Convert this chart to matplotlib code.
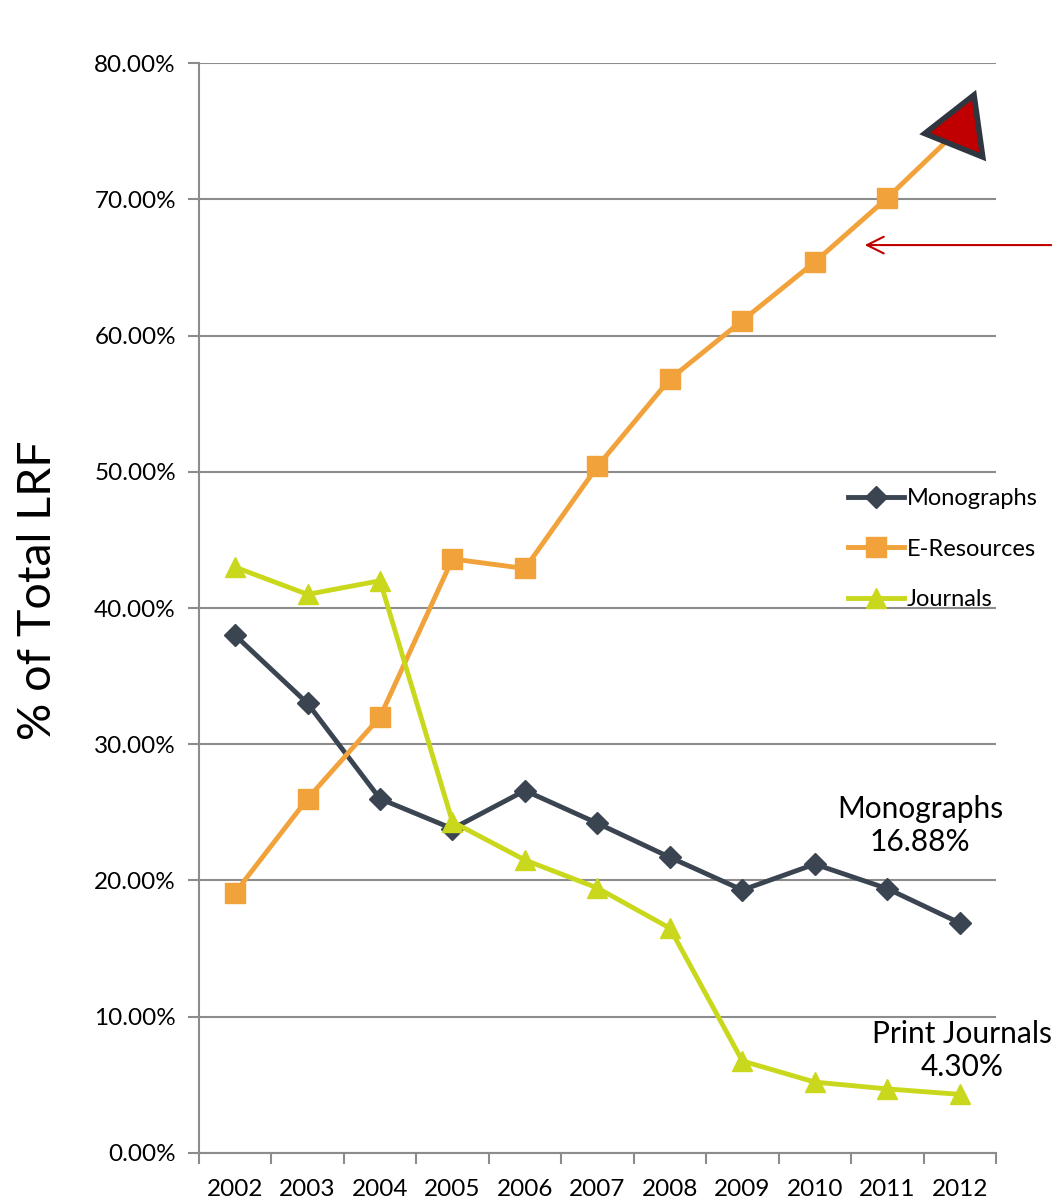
import matplotlib.pyplot as plt
import numpy as np

plt.rcParams['font.family'] = ['Lato', 'DejaVu Sans']

years = ["2002", "2003", "2004", "2005", "2006", "2007", "2008", "2009", "2010", "2011", "2012"]
monographs = [38.0, 33.0, 26.0, 23.8, 26.6, 24.2, 21.7, 19.3, 21.2, 19.4, 16.88]
eresources = [19.1, 26.0, 32.0, 43.6, 42.9, 50.4, 56.8, 61.1, 65.4, 70.1, 75.2]
journals = [43.0, 41.0, 42.0, 24.3, 21.5, 19.45, 16.5, 6.75, 5.2, 4.7, 4.3]

c_mono = "#3B4551"
c_eres = "#F2A23A"
c_jour = "#C9D81C"
grid_c = "#8C8C8C"

fig = plt.figure(figsize=(10.52, 12.01), dpi=100)
ax = fig.add_axes([0.189, 0.04, 0.7578, 0.9075])

x = np.arange(len(years))
ax.plot(x, monographs, color=c_mono, lw=3.5, marker="D", ms=11, label="Monographs", zorder=3)
ax.plot(x, eresources, color=c_eres, lw=3.5, marker="s", ms=14, label="E-Resources", zorder=3)
ax.plot(x, journals, color=c_jour, lw=3.5, marker="^", ms=14, label="Journals", zorder=3)

# big red triangle on the last E-Resources point
ax.plot(x[-1], eresources[-1], marker=(3, 0, -22), ms=52, color="#C00000",
        markeredgecolor="#2F3640", markeredgewidth=4, zorder=5, clip_on=False)

ax.set_xlim(-0.5, len(years) - 0.5)
ax.set_ylim(0, 80)
ax.set_xticks(x)
ax.set_xticklabels(years)
ax.set_xticks(np.arange(-0.5, len(years), 1), minor=True)
ax.tick_params(axis="x", which="major", length=0, pad=19, labelsize=17.5)
ax.tick_params(axis="x", which="minor", length=8, width=1.5, color=grid_c)
yt = np.arange(0, 81, 10)
ax.set_yticks(yt)
ax.set_yticklabels(["%.2f%%" % v for v in yt])
ax.tick_params(axis="y", length=8, width=1.5, color=grid_c, labelsize=17.5, pad=8.5)
ax.grid(axis="y", color=grid_c, lw=1.5)
ax.set_axisbelow(True)
for s in ["top", "right"]:
    ax.spines[s].set_visible(False)
for s in ["left", "bottom"]:
    ax.spines[s].set_color(grid_c)
    ax.spines[s].set_linewidth(1.5)

fig.text(38 / 1052, 1 - 590 / 1201, "% of Total LRF", fontsize=33.5, rotation=90,
         ha="center", va="center")

ax.legend(loc="upper left", bbox_to_anchor=(0.814, 0.61), frameon=False, fontsize=17,
          handlelength=2.4, labelspacing=1.25, handletextpad=0.1, borderaxespad=0,
          borderpad=0)

ax.text(9.45, 21.8, "Monographs\n16.88%", ha="center", va="bottom", fontsize=21.5, linespacing=1.2)
ax.text(10.03, 5.3, "Print Journals\n4.30%", ha="center", va="bottom", fontsize=21.5,
        linespacing=1.2, clip_on=False)

ax.annotate("", xy=(8.65, 66.64), xytext=(11.3, 66.64),
            arrowprops=dict(arrowstyle="->", color="#C00000", lw=1.5, mutation_scale=30),
            annotation_clip=False)

fig.savefig("out.png", dpi=100)
